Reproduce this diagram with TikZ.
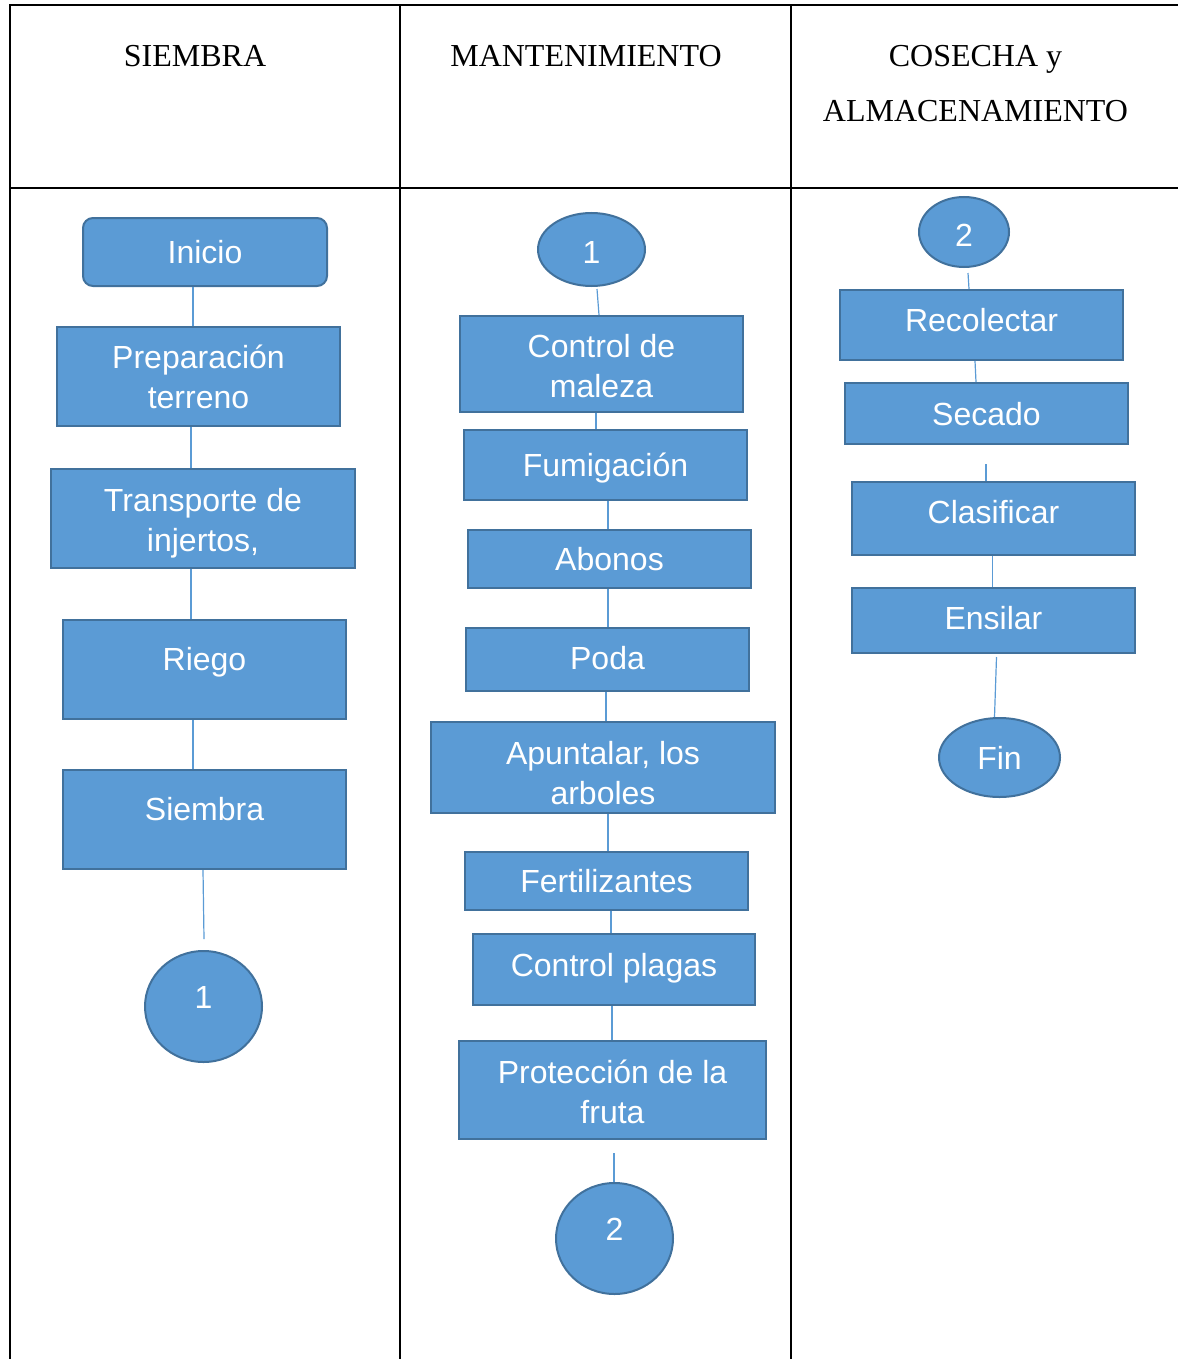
\documentclass[tikz,border=0pt]{standalone}
\usepackage{fontspec}
\setmainfont{Liberation Serif}
\newfontfamily\arialf{Liberation Sans}
\usetikzlibrary{shapes.geometric}
\definecolor{boxfill}{HTML}{5B9BD5}
\definecolor{boxline}{HTML}{41719C}
\definecolor{connc}{HTML}{5B9BD5}
\newcommand{\lift}[1]{\rule{0pt}{#1}}
\begin{document}
\begin{tikzpicture}[x=1pt,y=-1pt,
  tbl/.style={draw=black, line width=2pt},
  hdr/.style={font=\fontsize{32}{40}\selectfont, text height=21pt, text depth=0pt, inner sep=0pt},
  fbox/.style={rectangle, draw=boxline, fill=boxfill, line width=2pt, text=white,
    font=\arialf\fontsize{32}{40}\selectfont, inner sep=0pt},
  sz/.style 2 args={minimum width=#1pt, minimum height=#2pt},
  sl/.style={text height=23pt, text depth=#1},
  sl/.default=0pt,
  ml/.style={align=center},
  oval/.style={ellipse, draw=boxline, fill=boxfill, line width=2pt, text=white,
    font=\arialf\fontsize{32}{40}\selectfont, inner sep=0pt, text height=23pt, text depth=#1},
  oval/.default=0pt,
  conn/.style={draw=connc, line width=1.2pt}]
\useasboundingbox (0,0) rectangle (1178,1359);
% table
\draw[tbl] (10,1359) -- (10,5) -- (1178,5);
\draw[tbl] (10,188) -- (1178,188);
\draw[tbl] (400,5) -- (400,1359);
\draw[tbl] (791,5) -- (791,1359);
% headers
\node[hdr] (h1) at (195,56) {SIEMBRA};
\node[hdr] (h2) at (586,56) {MANTENIMIENTO};
\node[hdr] (h3a) at (975.5,56) {COSECHA y};
\node[hdr] (h3b) at (975.5,111) {ALMACENAMIENTO};
% column 1
\node[fbox, sz={244}{68}, sl, rounded corners=10pt] (ini) at (205,252) {Inicio};
\node[fbox, sz={283}{99}, ml] (prep) at (198.5,376.5) {\lift{25pt}Preparación\\terreno};
\node[fbox, sz={304}{99}, ml] (trans) at (203,518.5) {\lift{33.5pt}Transporte de\\injertos,};
\node[fbox, sz={283}{99}, sl=22pt] (riego) at (204.5,669.5) {Riego};
\node[fbox, sz={283}{99}, sl=21pt] (siem) at (204.5,819.5) {Siembra};
\node[oval=20pt, minimum width=117pt, minimum height=111pt] (c1a) at (203.5,1006.5) {1};
% column 2
\node[oval, text height=27pt, minimum width=107pt, minimum height=73pt] (c1b) at (591.5,249.5) {1};
\node[fbox, sz={283}{96}, ml] (cm) at (601.5,364) {\lift{27.5pt}Control de\\maleza};
\node[fbox, sz={283}{70}, sl] (fum) at (605.5,465) {Fumigación};
\node[fbox, sz={283}{58}, sl] (abo) at (609.5,559) {Abonos};
\node[fbox, sz={283}{63}, sl=3pt] (poda) at (607.5,659.5) {Poda};
\node[fbox, sz={344}{91}, ml] (apu) at (603,767.5) {\lift{33.5pt}Apuntalar, los\\arboles};
\node[fbox, sz={283}{58}, sl] (fert) at (606.5,881) {Fertilizantes};
\node[fbox, sz={282}{71}, sl=9pt] (cp) at (614,969.5) {Control plagas};
\node[fbox, sz={307}{98}, ml] (prot) at (612.5,1090) {\lift{28pt}Protección de la\\fruta};
\node[oval=20pt, minimum width=117pt, minimum height=111pt] (c2a) at (614.5,1238.5) {2};
% column 3
\node[oval, text height=29pt, minimum width=90pt, minimum height=70pt] (c2b) at (964,232) {2};
\node[fbox, sz={283}{70}, sl=10pt] (rec) at (981.5,325) {Recolectar};
\node[fbox, sz={283}{61}, sl] (sec) at (986.5,413.5) {Secado};
\node[fbox, sz={283}{73}, sl=13pt] (cla) at (993.5,518.5) {Clasificar};
\node[fbox, sz={283}{65}, sl=5pt] (ens) at (993.5,620.5) {Ensilar};
\node[oval, minimum width=121pt, minimum height=79pt] (fin) at (999.5,757.5) {Fin};
% connectors column 1
\draw[conn] ([xshift=-12pt]ini.south) -- ([xshift=-5.5pt]prep.north);
\draw[conn] ([xshift=-7.5pt]prep.south) -- ([xshift=-12pt]trans.north);
\draw[conn] ([xshift=-12pt]trans.south) -- ([xshift=-13.5pt]riego.north);
\draw[conn] ([xshift=-11.5pt]riego.south) -- ([xshift=-11.5pt]siem.north);
\draw[conn] ([xshift=-1.5pt]siem.south) -- ([xshift=0.5pt,yshift=11pt]c1a.north);
% connectors column 2
\draw[conn] ([xshift=5.5pt,yshift=-2pt]c1b.south) -- ([xshift=-2.5pt]cm.north);
\draw[conn] ([xshift=-5.5pt]cm.south) -- ([xshift=-9.5pt]fum.north);
\draw[conn] ([xshift=2.5pt]fum.south) -- ([xshift=-1.5pt]abo.north);
\draw[conn] ([xshift=-1.5pt]abo.south) -- ([xshift=0.5pt]poda.north);
\draw[conn] ([xshift=-1.5pt]poda.south) -- ([xshift=3pt]apu.north);
\draw[conn] ([xshift=5pt]apu.south) -- ([xshift=1.5pt]fert.north);
\draw[conn] ([xshift=4.5pt]fert.south) -- ([xshift=-3pt]cp.north);
\draw[conn] ([xshift=-2pt]cp.south) -- ([xshift=-0.5pt]prot.north);
\draw[conn] ([xshift=1.5pt,yshift=-13pt]prot.south) -- ([xshift=-0.5pt]c2a.north);
% connectors column 3
\draw[conn] ([xshift=4pt,yshift=-5pt]c2b.south) -- ([xshift=-12.5pt]rec.north);
\draw[conn] ([xshift=-6.5pt]rec.south) -- ([xshift=-10.5pt]sec.north);
\draw[conn] ([xshift=-0.5pt,yshift=-19pt]sec.south) -- ([xshift=-7.5pt]cla.north);
\draw[conn] ([xshift=-1pt]cla.south) -- ([xshift=-1pt]ens.north);
\draw[conn] ([xshift=3pt,yshift=-3pt]ens.south) -- ([xshift=-5pt]fin.north);
\end{tikzpicture}
\end{document}
